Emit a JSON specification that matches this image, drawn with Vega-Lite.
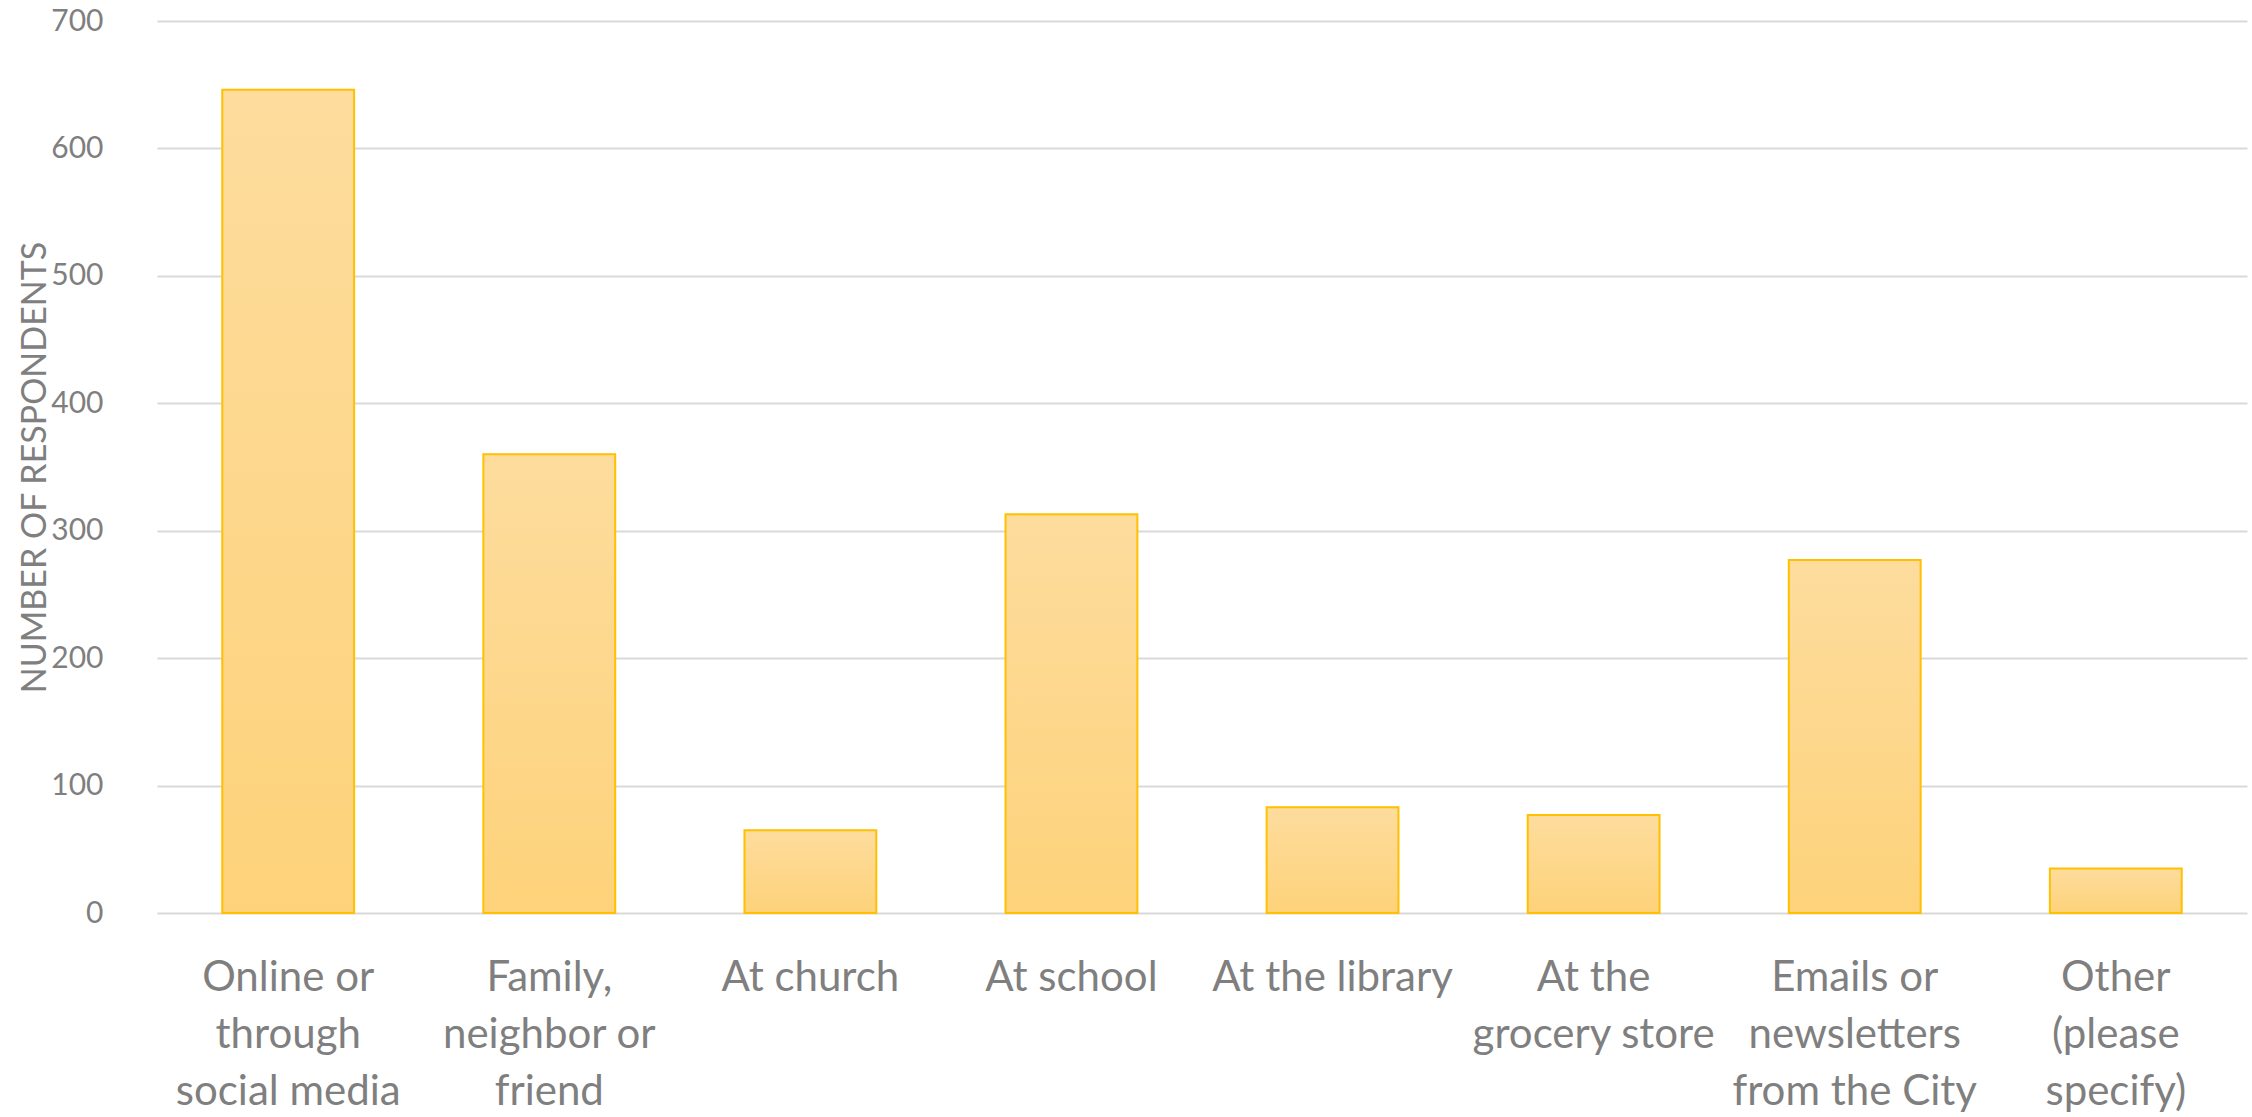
{
  "$schema": "https://vega.github.io/schema/vega-lite/v6.json",
  "autosize": {"type": "none"},
  "width": 2090,
  "height": 892,
  "padding": {"left": 157, "top": 21, "right": 5, "bottom": 204},
  "background": "white",
  "config": {"view": {"stroke": null}},
  "data": {
    "values": [
      {"source": "Online or|through|social media", "count": 646},
      {"source": "Family,|neighbor or|friend", "count": 360},
      {"source": "At church", "count": 65},
      {"source": "At school", "count": 313},
      {"source": "At the library", "count": 83},
      {"source": "At the|grocery store", "count": 77},
      {"source": "Emails or|newsletters|from the City", "count": 277},
      {"source": "Other|(please|specify)", "count": 35}
    ]
  },
  "mark": {
    "type": "bar",
    "stroke": "#FFC000",
    "strokeWidth": 2,
    "color": {
      "gradient": "linear",
      "x1": 0, "y1": 0, "x2": 0, "y2": 1,
      "stops": [
        {"offset": 0, "color": "#FDDC9D"},
        {"offset": 1, "color": "#FDD27A"}
      ]
    }
  },
  "encoding": {
    "x": {
      "field": "source",
      "type": "nominal",
      "sort": null,
      "scale": {"paddingInner": 0.495, "paddingOuter": 0.25},
      "axis": {
        "title": null,
        "labelAngle": 0,
        "labelExpr": "split(datum.label, '|')",
        "labelFont": "Lato",
        "labelFontSize": 42,
        "labelLineHeight": 57,
        "labelColor": "#7F7F7F",
        "labelPadding": 44,
        "labelBaseline": "top",
        "labelLimit": 0,
        "domain": false,
        "ticks": false,
        "grid": false
      }
    },
    "y": {
      "field": "count",
      "type": "quantitative",
      "scale": {"domain": [0, 700]},
      "axis": {
        "title": "NUMBER OF RESPONDENTS",
        "titleFont": "Lato",
        "titleFontSize": 34,
        "titleFontWeight": "normal",
        "titleColor": "#7F7F7F",
        "titlePadding": -2,
        "values": [0, 100, 200, 300, 400, 500, 600, 700],
        "labelFont": "Lato",
        "labelFontSize": 30,
        "labelColor": "#7F7F7F",
        "labelPadding": 54,
        "domain": false,
        "ticks": false,
        "grid": true,
        "gridColor": "#D9D9D9",
        "gridWidth": 2
      }
    }
  }
}
